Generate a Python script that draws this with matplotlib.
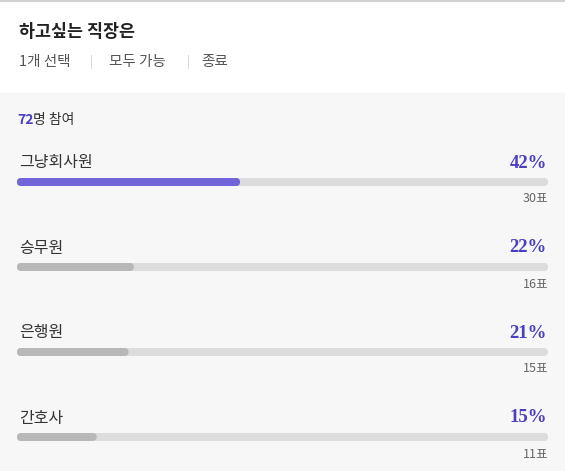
import matplotlib
matplotlib.use("Agg")
import matplotlib.pyplot as plt
from matplotlib.patches import FancyBboxPatch, Rectangle

plt.rcParams['font.family'] = ['Noto Sans CJK KR', 'DejaVu Sans']

title = "하고싶는 직장은"
options = ["그냥회사원", "승무원", "은행원", "간호사"]
percents = [42, 22, 21, 15]
votes = [30, 16, 15, 11]
participants = 72

W, H = 565, 471
fig = plt.figure(figsize=(W / 100, H / 100), dpi=100)
ax = fig.add_axes([0, 0, 1, 1])
ax.set_xlim(0, W)
ax.set_ylim(H, 0)
ax.axis('off')

purple = '#4a3fbf'
ax.add_patch(Rectangle((0, 93), W, H - 93, color='#f7f7f7', zorder=0))
ax.plot([0, W], [0.5, 0.5], color='#d0d0d0', lw=1.5)

ax.text(19, 32, title, fontsize=12.5, fontweight='bold', color='#222222', va='center')
ax.text(19, 62, "1개 선택", fontsize=10.5, color='#555555', va='center')
ax.text(90, 62, "|", fontsize=9, color='#cccccc', va='center')
ax.text(109, 62, "모두 가능", fontsize=10.5, color='#555555', va='center')
ax.text(187, 62, "|", fontsize=9, color='#cccccc', va='center')
ax.text(201, 62, "종료", fontsize=10.5, color='#555555', va='center')

ax.text(17, 120, str(participants), fontsize=10, fontweight='bold', color=purple, va='center')
ax.text(33, 120, "명 참여", fontsize=10, color='#333333', va='center')

x0, x1 = 17, 548
bw = x1 - x0
for i, (name, p, v) in enumerate(zip(options, percents, votes)):
    y = 163 + 85 * i
    ax.text(19, y, name, fontsize=11.5, color='#333333', va='center')
    ax.text(547, y, f"{p}%", fontsize=13.5, fontweight='bold', color=purple,
            va='center', ha='right', family='Liberation Serif')
    by = y + 15
    ax.add_patch(FancyBboxPatch((x0, by), bw, 8, boxstyle="round,pad=0,rounding_size=4",
                                color='#dcdcdc', lw=0))
    fill = '#7165d9' if i == 0 else '#b8b8b8'
    ax.add_patch(FancyBboxPatch((x0, by), bw * p / 100, 8,
                                boxstyle="round,pad=0,rounding_size=4", color=fill, lw=0))
    ax.text(548, y + 36, f"{v}표", fontsize=9, color='#666666', va='center', ha='right')

fig.savefig("out.png", dpi=100)
